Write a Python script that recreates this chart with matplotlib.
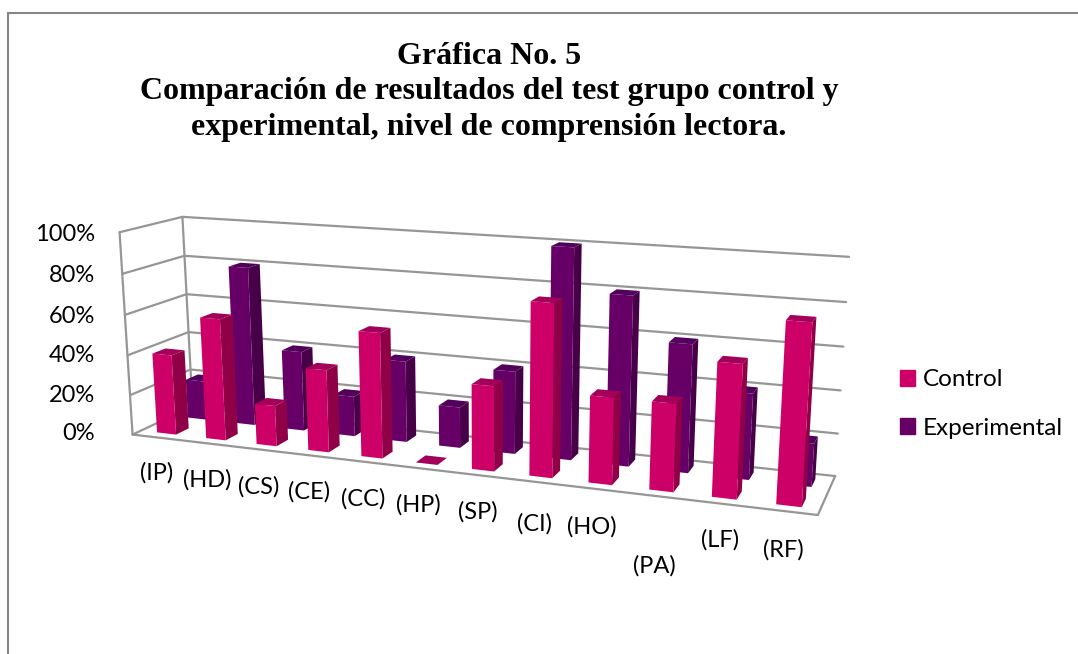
import numpy as np
import matplotlib
matplotlib.use('Agg')
import matplotlib.pyplot as plt
from matplotlib.patches import Patch
from mpl_toolkits.mplot3d import Axes3D  # noqa

W, H = 1078, 654

categories = ['(IP)', '(HD)', '(CS)', '(CE)', '(CC)', '(HP)', '(SP)', '(CI)', '(HO)', '(PA)', '(LF)', '(RF)']
control = [40, 60, 20, 40, 60, 0, 40, 80, 40, 40, 60, 80]
experimental = [20, 80, 40, 20, 40, 20, 40, 100, 80, 60, 40, 20]
y_ticks = [0, 20, 40, 60, 80, 100]

# pixel spots of the category labels, they are staggered in the original
label_px = [(157, 473), (207, 480), (259, 487), (309, 492), (363, 499), (418, 505),
            (478, 512), (535, 524), (592, 527), (654, 566), (720, 540), (783, 550)]

# camera calibration: box corners (x, depth, percent) -> pixels
DEPTH = 2.0
N = len(categories)
calib = [
    ((0, 0, 0), (132, 433)),
    ((N, 0, 0), (818, 516)),
    ((N, DEPTH, 0), (835, 475)),
    ((0, DEPTH, 0), (193, 408)),
    ((0, 0, 100), (120, 233)),
    ((0, DEPTH, 100), (182, 216)),
    ((N, DEPTH, 100), (849, 257)),
]

GRID = '#969696'
NONE = (0, 0, 0, 0)
# bottom, top, front, back, left, right
faces_control = [NONE, '#A3005A', '#CC0066', NONE, NONE, '#8F0047']
faces_exp = [NONE, '#52005C', '#660066', NONE, NONE, '#470047']

fig = plt.figure(figsize=(W / 100, H / 100), dpi=100)
plt.rcParams['font.family'] = ['Lato', 'DejaVu Sans']

# square axes as wide as the figure, so data space -> pixels stays simple
ax = fig.add_axes([0, (H - W) / 2 / H, 1, W / H], projection='3d', computed_zorder=False)
ax.set_axis_off()
ax.patch.set_visible(False)
ax.apply_aspect()


def fit_camera():
    inv = ax.transData.inverted()
    rows, rhs = [], []
    for (x, y, z), (px, py) in calib:
        u, v = inv.transform((px, H - py))
        rows.append([x, y, z, 1, 0, 0, 0, 0, -u * x, -u * y, -u * z])
        rows.append([0, 0, 0, 0, x, y, z, 1, -v * x, -v * y, -v * z])
        rhs += [u, v]
    p = np.linalg.lstsq(np.array(rows, float), np.array(rhs, float), rcond=None)[0]
    p = np.append(p, 1.0).reshape(3, 4)
    return np.array([p[0], p[1], [0, 0, 0, -1], p[2]])


M = fit_camera()
ax.get_proj = lambda: M


def line3(xs, ys, zs):
    ax.plot(xs, ys, zs, color=GRID, lw=1.6, solid_capstyle='round', zorder=1)


# walls and floor
for t in y_ticks:
    line3([0, 0, N], [0, DEPTH, DEPTH], [t, t, t])
line3([0, 0], [0, 0], [0, 100])
line3([0, 0], [DEPTH, DEPTH], [0, 100])
line3([0, N, N], [0, 0, DEPTH], [0, 0, 0])

bar_w = 0.39
bar_d = 0.42
zo = 3
for y0, vals, faces in [(1.3, experimental, faces_exp), (0.27, control, faces_control)]:
    for i, v in enumerate(vals):
        ax.bar3d(i + 0.33, y0, 0, bar_w, bar_d, v, color=faces, shade=False, linewidth=0, zorder=zo)
        zo += 1

# y tick labels
for t, py in zip(y_ticks, [434, 395, 356, 316, 276, 234]):
    fig.text(95 / W, 1 - py / H, f'{t}%', ha='right', va='center', fontsize=17, color='black')

for name, (px, py) in zip(categories, label_px):
    fig.text(px / W, 1 - py / H, name, ha='center', va='center', fontsize=17, color='black')

fig.text(489 / W, 1 - 92 / H,
         'Gráfica No. 5\nComparación de resultados del test grupo control y\n'
         'experimental, nivel de comprensión lectora.',
         ha='center', va='center', family='Liberation Serif', fontweight='bold',
         fontsize=23, linespacing=1.3)

handles = [Patch(color='#CC0066', label='Control'), Patch(color='#660066', label='Experimental')]
fig.legend(handles=handles, loc='center left', bbox_to_anchor=(900 / W, 1 - 404 / H), frameon=False,
           fontsize=17.5, handlelength=0.62, handleheight=0.62, handletextpad=0.33, labelspacing=1.13,
           borderpad=0, borderaxespad=0)

# chart frame
frame_kw = dict(color='#868686', lw=1.5, transform=fig.transFigure)
fig.add_artist(plt.Line2D([8 / W, 8 / W], [0, 1 - 13 / H], **frame_kw))
fig.add_artist(plt.Line2D([8 / W, 1], [1 - 13 / H, 1 - 13 / H], **frame_kw))

fig.savefig('out.png', dpi=100)
